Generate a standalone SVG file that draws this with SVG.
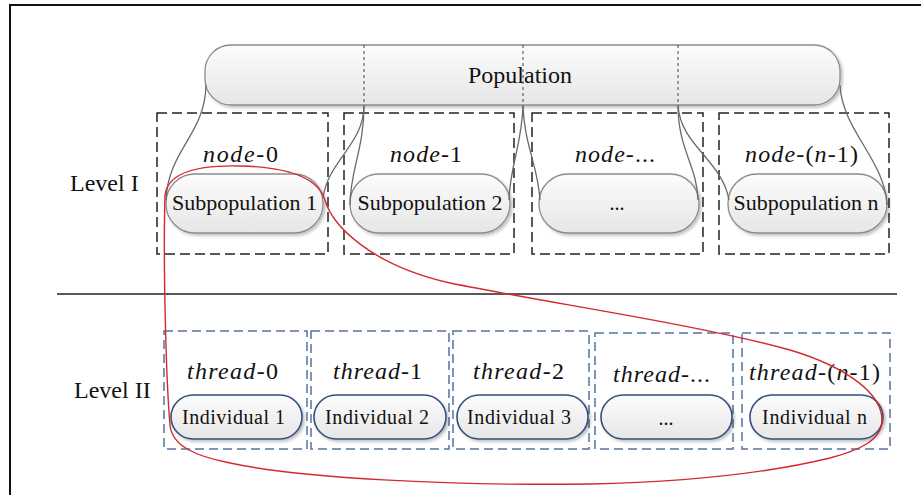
<svg xmlns="http://www.w3.org/2000/svg" width="921" height="495" viewBox="0 0 921 495">
<style>
.t{font-family:"Liberation Serif","Times New Roman",serif;fill:#111}
.i{font-style:italic}
.gp{fill:url(#gg);stroke:#8c8c8c;stroke-width:1.3;filter:url(#sh)}
.bp{fill:url(#gg);stroke:#34507e;stroke-width:1.6;filter:url(#sh)}
.kd{fill:none;stroke:#222;stroke-width:1.5;stroke-dasharray:10 5}
.bd{fill:none;stroke:#5473a0;stroke-width:1.5;stroke-dasharray:9 5}
.dot{stroke:#444;stroke-width:1;stroke-dasharray:3 3}
.cv{fill:none;stroke:#6a6a6a;stroke-width:1.3}
</style>
<defs>
<linearGradient id="gg" x1="0" y1="0" x2="0" y2="1">
<stop offset="0" stop-color="#fcfcfc"/>
<stop offset="1" stop-color="#e6e6e6"/>
</linearGradient>
<filter id="sh" x="-10%" y="-10%" width="130%" height="140%">
<feDropShadow dx="2" dy="2" stdDeviation="1.5" flood-color="#000" flood-opacity="0.25"/>
</filter>
</defs>
<rect width="921" height="495" fill="#fff"/>
<path d="M10,500 L10,5 L930,5" fill="none" stroke="#111" stroke-width="2"/>
<line x1="57" y1="294" x2="897" y2="294" stroke="#222" stroke-width="1.5"/>
<text class="t" x="70" y="191" font-size="24">Level I</text>
<text class="t" x="74" y="398" font-size="24">Level II</text>

<g id="population">
<rect class="gp" x="205" y="45" width="635" height="60" rx="26"/>
<text class="t" x="520" y="83" font-size="24" text-anchor="middle">Population</text>
</g>

<g id="node0">
<rect class="kd" x="157" y="113" width="171" height="141"/>
<text class="t" x="203" y="162" font-size="24" textLength="75"><tspan class="i">node</tspan>-0</text>
<rect class="gp" x="166" y="174" width="157" height="59" rx="29"/>
<text class="t" x="244.5" y="210" font-size="22" text-anchor="middle">Subpopulation 1</text>
</g>
<g id="node1">
<rect class="kd" x="344" y="113" width="170" height="141"/>
<text class="t" x="390" y="162" font-size="24" textLength="72"><tspan class="i">node</tspan>-1</text>
<rect class="gp" x="350" y="174" width="160" height="59" rx="29"/>
<text class="t" x="430" y="210" font-size="22" text-anchor="middle">Subpopulation 2</text>
</g>
<g id="node2">
<rect class="kd" x="532" y="113" width="171" height="141"/>
<text class="t" x="575" y="162" font-size="24" textLength="80"><tspan class="i">node</tspan>-...</text>
<rect class="gp" x="539" y="174" width="160" height="59" rx="29"/>
<text class="t" x="617" y="210" font-size="20" text-anchor="middle">...</text>
</g>
<g id="node3">
<rect class="kd" x="719" y="113" width="170" height="141"/>
<text class="t" x="745" y="162" font-size="24" textLength="113"><tspan class="i">node</tspan>-(<tspan class="i">n</tspan>-1)</text>
<rect class="gp" x="728" y="174" width="159" height="59" rx="29"/>
<text class="t" x="806" y="210" font-size="22" text-anchor="middle">Subpopulation n</text>
</g>

<g id="thread0">
<rect class="bd" x="164" y="331" width="143" height="118"/>
<text class="t" x="187" y="379" font-size="24" textLength="91"><tspan class="i">thread</tspan>-0</text>
<rect class="bp" x="171" y="395" width="131" height="44" rx="22"/>
<text class="t" x="182" y="424" font-size="20" textLength="103">Individual 1</text>
</g>
<g id="thread1">
<rect class="bd" x="311" y="331" width="138" height="118"/>
<text class="t" x="333" y="379" font-size="24" textLength="89"><tspan class="i">thread</tspan>-1</text>
<rect class="bp" x="314" y="395" width="132" height="44" rx="22"/>
<text class="t" x="325" y="424" font-size="20" textLength="104">Individual 2</text>
</g>
<g id="thread2">
<rect class="bd" x="453" y="331" width="136" height="118"/>
<text class="t" x="473" y="379" font-size="24" textLength="91"><tspan class="i">thread</tspan>-2</text>
<rect class="bp" x="457" y="395" width="131" height="44" rx="22"/>
<text class="t" x="467" y="424" font-size="20" textLength="104">Individual 3</text>
</g>
<g id="thread3">
<rect class="bd" x="595" y="333" width="138" height="116"/>
<text class="t" x="613" y="382" font-size="24" textLength="97"><tspan class="i">thread</tspan>-...</text>
<rect class="bp" x="601" y="395" width="131" height="44" rx="22"/>
<text class="t" x="666" y="425" font-size="20" text-anchor="middle">...</text>
</g>
<g id="thread4">
<rect class="bd" x="742" y="333" width="148" height="116"/>
<text class="t" x="749" y="380" font-size="24" textLength="131"><tspan class="i">thread</tspan>-(<tspan class="i">n</tspan>-1)</text>
<rect class="bp" x="750" y="395" width="133" height="44" rx="22"/>
<text class="t" x="762" y="424" font-size="20" textLength="105">Individual n</text>
</g>

<g id="connectors">
<line class="dot" x1="364" y1="45" x2="364" y2="105"/>
<line class="dot" x1="523" y1="45" x2="523" y2="105"/>
<line class="dot" x1="678" y1="45" x2="678" y2="105"/>
<path class="cv" d="M206,85 C205,135 168,150 166,200"/>
<path class="cv" d="M364,105 C364,145 328,160 323,198"/>
<path class="cv" d="M364,105 C364,150 350,170 350,205"/>
<path class="cv" d="M523,105 C522,145 510,165 509,200"/>
<path class="cv" d="M523,105 C524,145 538,165 540,200"/>
<path class="cv" d="M678,105 C678,150 697,165 698,200"/>
<path class="cv" d="M678,105 C680,145 722,160 729,200"/>
<path class="cv" d="M840,85 C842,130 885,160 887,205"/>
<path fill="none" stroke="#d42a2a" stroke-width="1.4" d="M165,195 C168,172 200,165 240,166 C290,167 318,178 325,200 C332,225 370,265 450,283 C560,305 700,325 790,350 C850,368 882,395 882,420 C882,440 860,450 830,458 C760,475 680,482 590,484 C450,486 300,478 230,463 C195,456 172,446 170,425 C166,380 163,260 165,195 Z"/>
</g>
</svg>
